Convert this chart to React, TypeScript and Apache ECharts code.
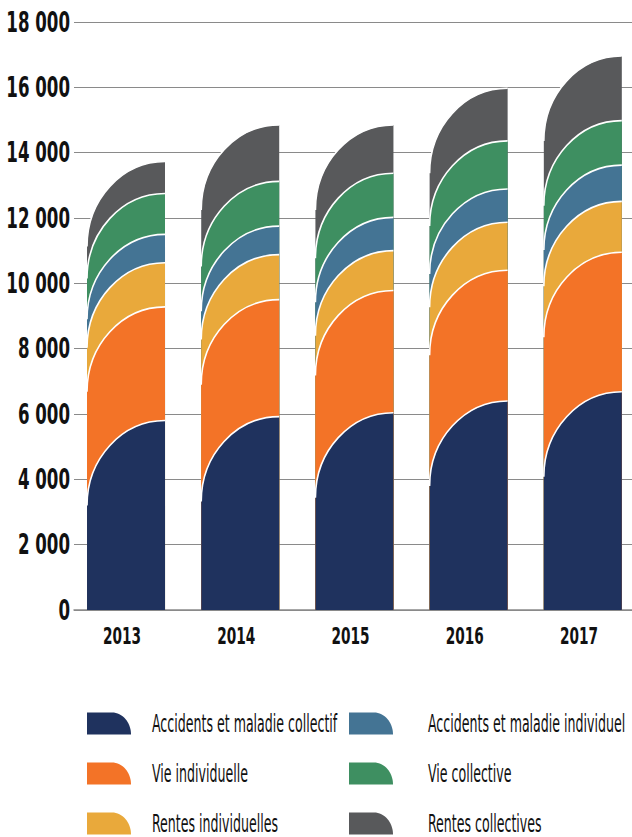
import React, { useEffect, useRef } from "react";
import * as echarts from "echarts";

const years = ["2013", "2014", "2015", "2016", "2017"];

// segment values (stacked from bottom)
const accidentsCollectif = [5800, 5920, 6040, 6400, 6680];
const vieIndividuelle = [3480, 3580, 3740, 4000, 4270];
const rentesIndividuelles = [1350, 1380, 1220, 1470, 1560];
const accidentsIndividuel = [870, 870, 1020, 1020, 1110];
const vieCollective = [1250, 1370, 1350, 1470, 1360];
const rentesCollectives = [980, 1730, 1480, 1610, 1980];

const yMin = 0;
const yMax = 18000;
const yStep = 2000;

const stackOrder = [
  { name: "Accidents et maladie collectif", values: accidentsCollectif, color: "#1f325e" },
  { name: "Vie individuelle", values: vieIndividuelle, color: "#f37327" },
  { name: "Rentes individuelles", values: rentesIndividuelles, color: "#e9a93b" },
  { name: "Accidents et maladie individuel", values: accidentsIndividuel, color: "#447494" },
  { name: "Vie collective", values: vieCollective, color: "#3e8f61" },
  { name: "Rentes collectives", values: rentesCollectives, color: "#58595b" },
];

// legend grid: two columns, three rows
const legendLeft = ["Accidents et maladie collectif", "Vie individuelle", "Rentes individuelles"];
const legendRight = ["Accidents et maladie individuel", "Vie collective", "Rentes collectives"];

const FONT = "'DejaVu Sans Condensed', 'DejaVu Sans', sans-serif";
const K = 0.5523;
const ICON = "path://M0,0 L25,0 C35.5,0 44,9.85 44,22 L0,22 Z";

// horizontal condensing factors (the original uses a condensed typeface)
const SQUEEZE_Y = 0.66;
const SQUEEZE_X = 0.66;
const SQUEEZE_LEGEND = 0.56;

function fmt(v: number) {
  return String(v).replace(/\B(?=(\d{3})+(?!\d))/g, " ");
}

export default function App() {
  const ref = useRef<HTMLDivElement>(null);
  useEffect(() => {
    if (!ref.current) return;
    const el = ref.current;
    const chart = echarts.init(el, undefined, { renderer: "svg" });

    const yLabels = new Set<string>();
    for (let v = yMin; v <= yMax; v += yStep) yLabels.add(fmt(v));
    const yearSet = new Set(years);
    const legendSet = new Set([...legendLeft, ...legendRight]);

    const squeeze = () => {
      const texts = el.querySelectorAll("svg text");
      texts.forEach((t: any) => {
        if (t.getAttribute("data-sq")) return;
        const s = (t.textContent || "").trim();
        let f = 0;
        if (yLabels.has(s)) f = SQUEEZE_Y;
        else if (yearSet.has(s)) f = SQUEEZE_X;
        else if (legendSet.has(s)) f = SQUEEZE_LEGEND;
        if (!f) return;
        const w = t.getComputedTextLength();
        if (!w) return;
        t.setAttribute("textLength", String(w * f));
        t.setAttribute("lengthAdjust", "spacingAndGlyphs");
        t.setAttribute("data-sq", "1");
      });
    };
    chart.on("finished", squeeze);

    // cumulative tops
    const cum: number[][] = [];
    let run = years.map(() => 0);
    stackOrder.forEach((s) => {
      run = run.map((r, i) => r + s.values[i]);
      cum.push(run.slice());
    });

    const renderItem = (params: any, api: any) => {
      const xi = api.value(0);
      const top = api.value(1);
      const pTop = api.coord([xi, top]);
      const pBase = api.coord([xi, 0]);
      const size = api.size([1, 0])[0];
      const w = size * 0.683;
      const x0 = pTop[0] - size / 2 + size * 0.114;
      const x1 = x0 + w;
      const yt = pTop[1];
      const yb = pBase[1];
      const ry = Math.min(85, yb - yt);
      const curve = `M${x0},${yt + ry} C${x0},${yt + ry - ry * K} ${x1 - w * K},${yt} ${x1},${yt}`;
      const fill = `M${x0},${yb} L${x0},${yt + ry} C${x0},${yt + ry - ry * K} ${x1 - w * K},${yt} ${x1},${yt} L${x1},${yb} Z`;
      return {
        type: "group",
        children: [
          { type: "path", shape: { pathData: fill }, style: { fill: api.visual("color") } },
          { type: "path", shape: { pathData: curve }, style: { fill: null, stroke: "#ffffff", lineWidth: 1.6 } },
        ],
      };
    };

    const series = stackOrder
      .map((s, idx) => ({
        name: s.name,
        type: "custom",
        renderItem,
        itemStyle: { color: s.color },
        encode: { x: 0, y: 1 },
        data: years.map((_, i) => [i, cum[idx][i]]),
      }))
      .reverse();

    const legendText = {
      fontFamily: FONT,
      fontSize: 25,
      color: "#111",
    };
    const makeLegend = (name: string, col: number, row: number) => ({
      orient: "horizontal",
      icon: ICON,
      itemWidth: 44,
      itemHeight: 22,
      padding: 0,
      selectedMode: false,
      left: col === 0 ? 87 : 349,
      top: 711 + row * 50,
      data: [name],
      textStyle: { ...legendText, padding: [0, 0, 0, col === 0 ? 16 : 30] },
    });

    chart.setOption({
      animation: false,
      grid: {
        left: 74,
        right: -13,
        top: 22,
        bottom: 227,
        containLabel: false,
        outerBoundsMode: "none",
      },
      xAxis: {
        type: "category",
        data: years,
        axisLine: { show: true, lineStyle: { color: "#8a8a8a", width: 1.5 } },
        axisTick: { show: false },
        axisLabel: {
          fontFamily: FONT,
          fontSize: 23,
          fontWeight: "bold",
          color: "#111",
          margin: 14,
          padding: [0, 18, 0, 0],
        },
      },
      yAxis: {
        type: "value",
        min: yMin,
        max: yMax,
        interval: yStep,
        axisLine: { show: false },
        axisTick: { show: false },
        splitLine: { lineStyle: { color: "#8a8a8a", width: 1.2 } },
        axisLabel: {
          fontFamily: FONT,
          fontSize: 28,
          fontWeight: "bold",
          color: "#111",
          margin: 4,
          formatter: (v: number) => fmt(v),
        },
      },
      legend: [
        ...legendLeft.map((n, r) => makeLegend(n, 0, r)),
        ...legendRight.map((n, r) => makeLegend(n, 1, r)),
      ],
      series,
    });
    const timer = setTimeout(squeeze, 50);
    return () => {
      clearTimeout(timer);
      chart.dispose();
    };
  }, []);
  return (
    <div
      ref={ref}
      style={{ position: "fixed", left: 0, top: 0, width: 632, height: 837, background: "#fff" }}
    />
  );
}
